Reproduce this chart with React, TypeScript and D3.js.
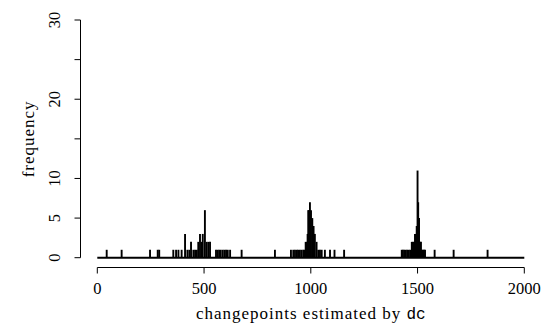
import React from "react";
import * as d3 from "d3";

// changepoint locations and how often each was estimated
const cpLocations = [
  44, 114, 247, 283, 290, 356, 369, 380, 395, 411, 422, 431, 439, 450, 458, 466, 473, 481, 488, 494, 504, 512, 520, 528,
  556, 564, 571, 578, 587, 595, 603, 611, 622, 676,
  832, 907, 918, 926, 935, 941, 949, 957, 965, 970, 976, 981, 985, 988, 992, 996, 1001, 1007, 1013, 1019, 1027, 1035,
  1043, 1051, 1066, 1090, 1111, 1156,
  1426, 1431, 1437, 1444, 1451, 1458, 1465, 1473, 1478, 1483, 1488, 1492, 1496, 1500, 1503, 1507, 1512, 1516, 1520,
  1525, 1530, 1535, 1580, 1669, 1828,
];
const cpCounts = [
  1, 1, 1, 1, 1, 1, 1, 1, 1, 3, 1, 1, 2, 1, 1, 1, 2, 3, 2, 3, 6, 2, 2, 2,
  1, 1, 1, 1, 1, 1, 1, 1, 1, 1,
  1, 1, 1, 1, 1, 1, 1, 1, 1, 1, 2, 2, 3, 6, 6, 7, 6, 5, 4, 3, 2, 1,
  1, 1, 1, 1, 1, 1,
  1, 1, 1, 1, 1, 1, 1, 2, 2, 2, 3, 3, 4, 11, 7, 5, 2, 2, 1,
  1, 1, 1, 1, 1, 1,
];

const xTicks = [0, 500, 1000, 1500, 2000];
const yTicks = [0, 5, 10, 15, 20, 25, 30];
const yLabels = [0, 5, 10, 20, 30];
const xTitle = "changepoints estimated by ";
const xTitleCode = "dc";
const yTitle = "frequency";

const serif = "'Liberation Serif', 'DejaVu Serif', serif";
const mono = "'Liberation Mono', 'DejaVu Sans Mono', monospace";

export default function App() {
  const x = d3.scaleLinear().domain([0, 2000]).range([97.3, 524.3]);
  const y = d3.scaleLinear().domain([0, 30]).range([257.7, 20]);
  const axisX = 80.5;
  const axisY = 267.5;
  const tickFs = 16.5;
  const titleFs = 17;
  const data = cpLocations.map((v, i) => ({ v, c: cpCounts[i] }));

  return (
    <svg
      width={542}
      height={331}
      style={{ position: "absolute", left: 0, top: 0, background: "#fff" }}
    >
      <rect width={542} height={331} fill="#fff" />
      {/* baseline */}
      <line x1={x(0)} x2={x(2000)} y1={y(0)} y2={y(0)} stroke="#000" strokeWidth={2} />
      {/* bars */}
      {data.map((d, i) => (
        <line key={i} x1={x(d.v)} x2={x(d.v)} y1={y(0)} y2={y(d.c)} stroke="#000" strokeWidth={1.9} />
      ))}
      {/* x axis */}
      <line x1={x(0)} x2={x(2000)} y1={axisY} y2={axisY} stroke="#000" strokeWidth={1} />
      {xTicks.map((t) => (
        <g key={t}>
          <line x1={x(t)} x2={x(t)} y1={axisY} y2={axisY + 6} stroke="#000" strokeWidth={1} />
          <text x={x(t)} y={293.7} textAnchor="middle" fontFamily={serif} fontSize={tickFs}>
            {t}
          </text>
        </g>
      ))}
      <text
        x={x(1000)}
        y={318.5}
        textAnchor="middle"
        fontFamily={serif}
        fontSize={titleFs}
        letterSpacing={1}
      >
        {xTitle}
        <tspan fontFamily={mono} fontSize={titleFs - 1} letterSpacing={0}>{xTitleCode}</tspan>
      </text>
      {/* y axis */}
      <line x1={axisX} x2={axisX} y1={y(0)} y2={y(30)} stroke="#000" strokeWidth={1} />
      {yTicks.map((t) => (
        <line key={t} x1={axisX - 6} x2={axisX} y1={y(t)} y2={y(t)} stroke="#000" strokeWidth={1} />
      ))}
      {yLabels.map((t) => (
        <text
          key={t}
          transform={`translate(60,${y(t)}) rotate(-90)`}
          textAnchor="middle"
          fontFamily={serif}
          fontSize={tickFs}
        >
          {t}
        </text>
      ))}
      <text
        transform={`translate(34,${y(15)}) rotate(-90)`}
        textAnchor="middle"
        fontFamily={serif}
        fontSize={titleFs}
        letterSpacing={1}
      >
        {yTitle}
      </text>
    </svg>
  );
}
